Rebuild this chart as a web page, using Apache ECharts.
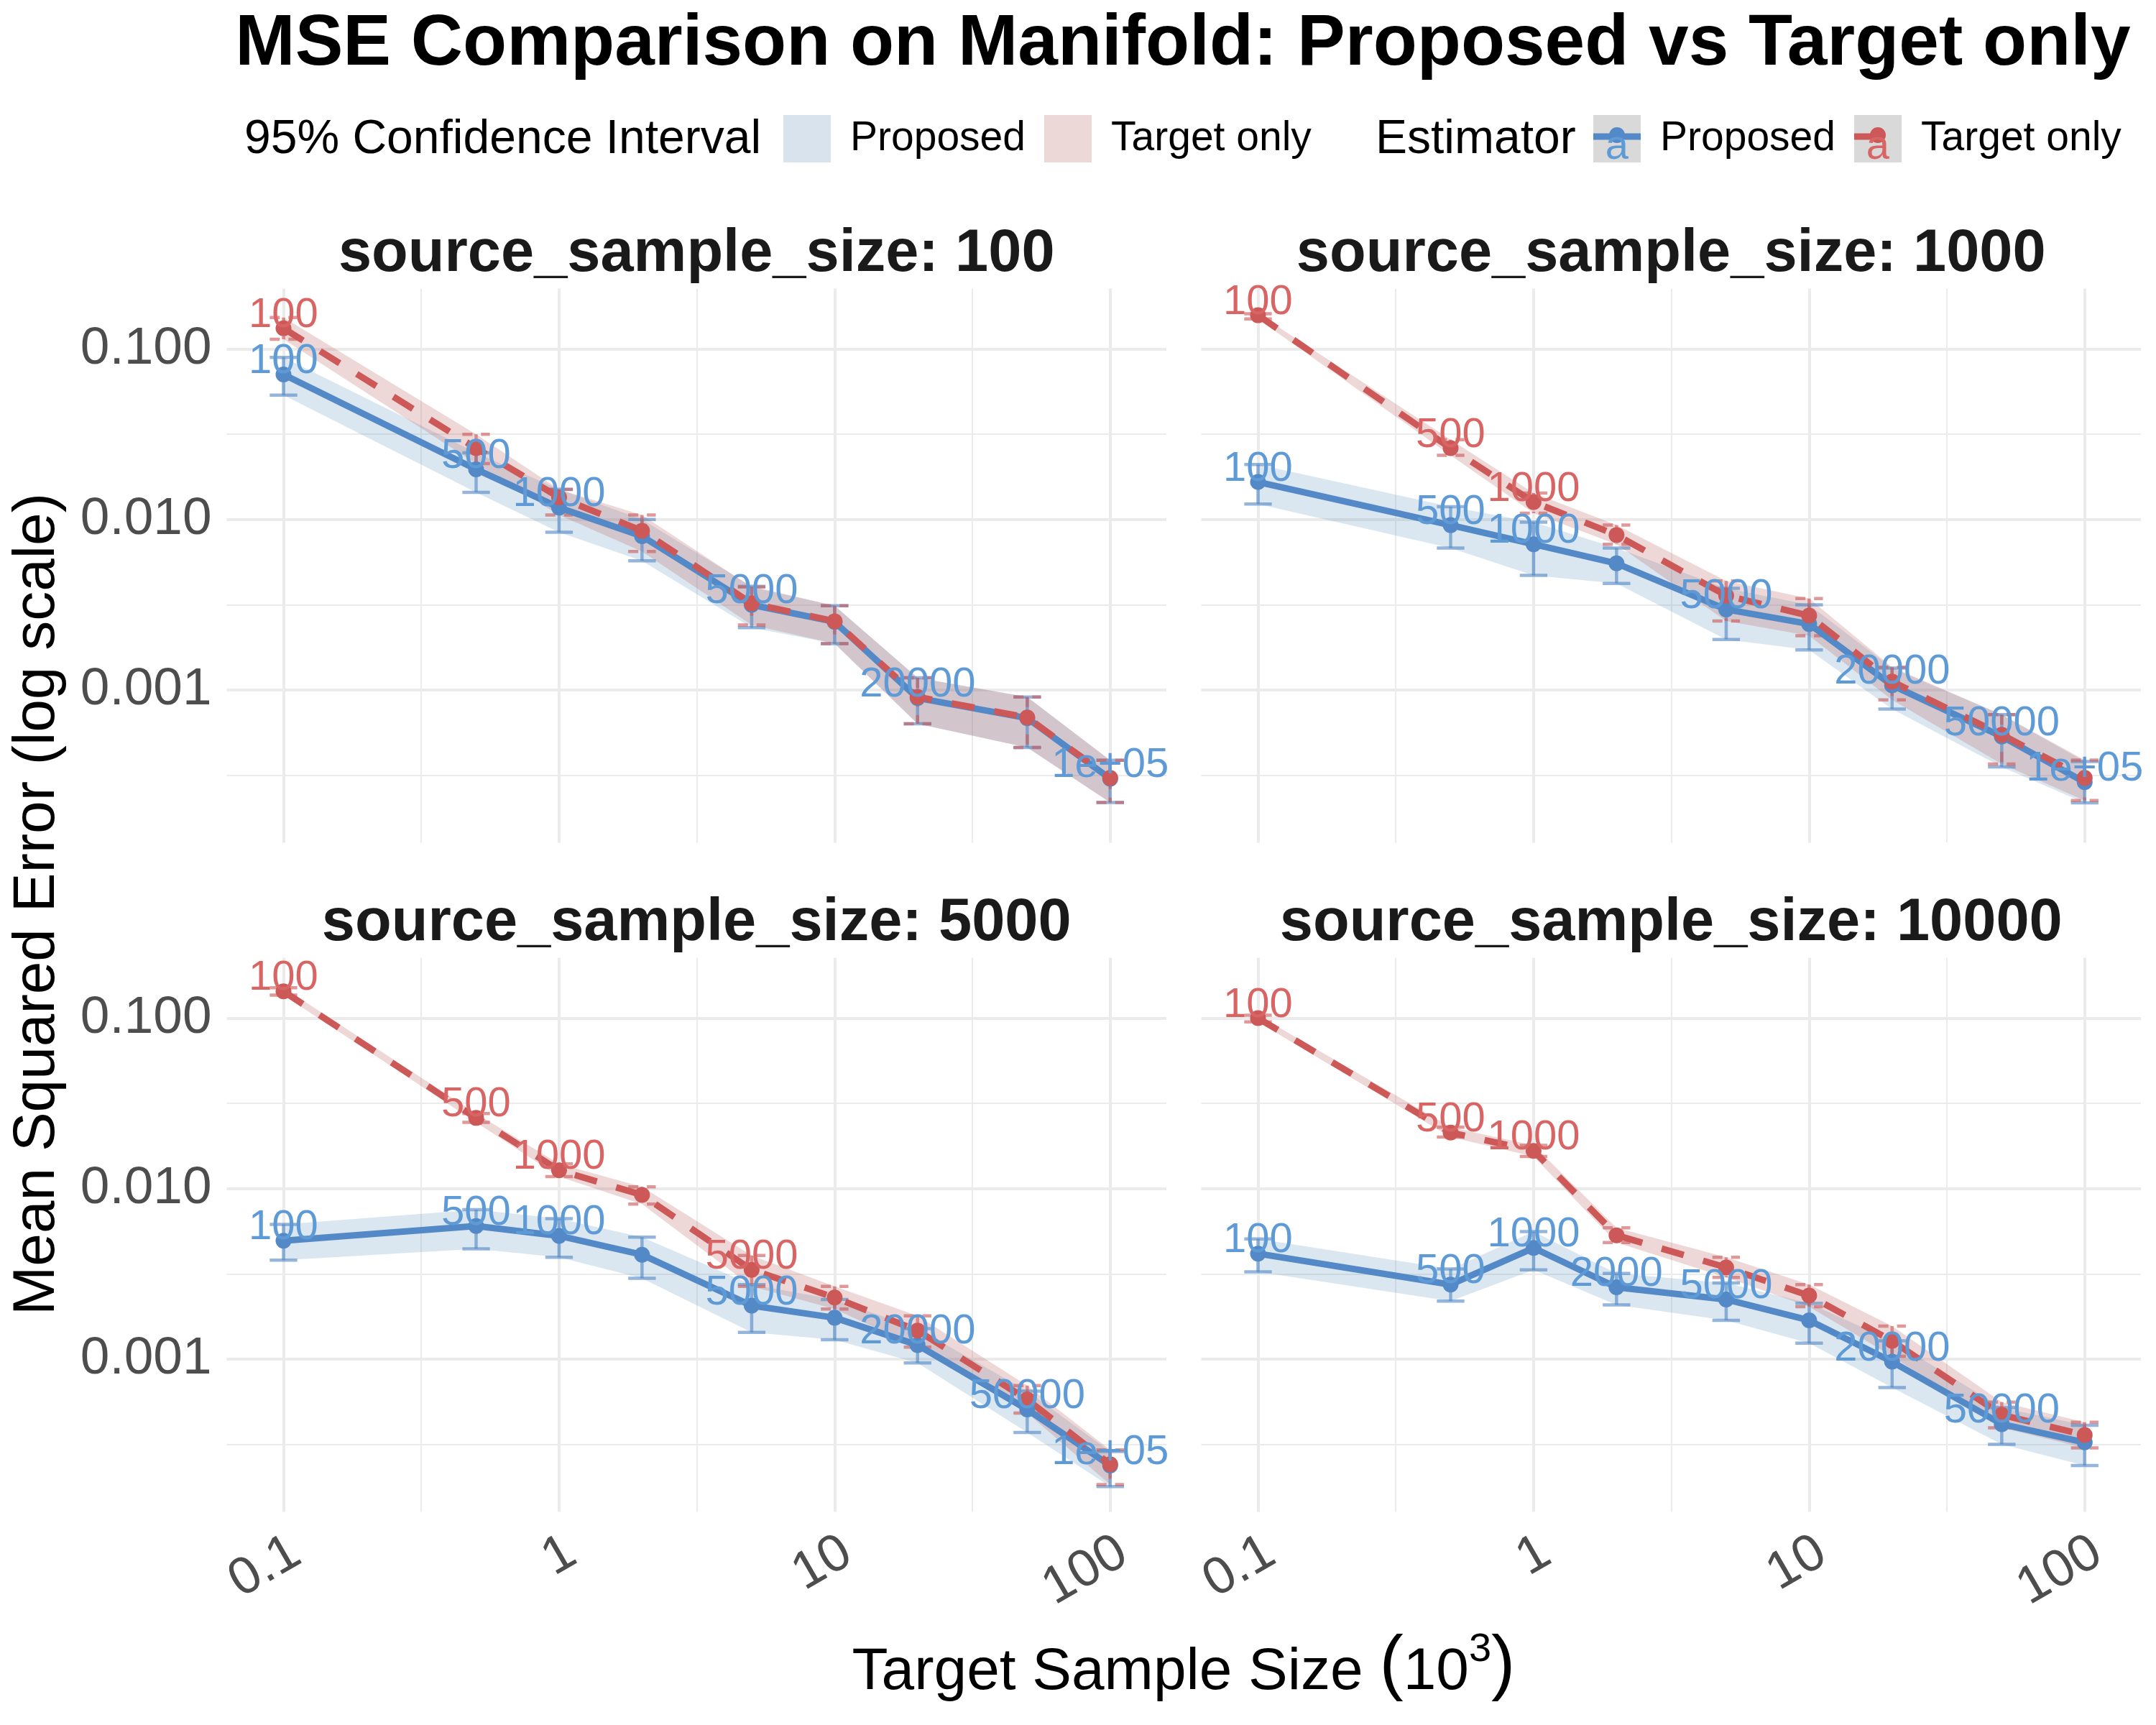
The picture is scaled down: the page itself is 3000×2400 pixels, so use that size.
<!DOCTYPE html>
<html>
<head>
<meta charset="utf-8">
<script src="https://cdn.jsdelivr.net/npm/echarts@6/dist/echarts.min.js"></script>
<style>
html,body{margin:0;padding:0;background:#ffffff;}
#chart{width:3000px;height:2400px;}
</style>
</head>
<body>
<div id="chart"></div>
<script>
// ---------------- DATA ----------------
const targetSizeK = [0.1, 0.5, 1, 2, 5, 10, 20, 50, 100];
const pointLabels = ['100', '500', '1000', '2000', '5000', '10000', '20000', '50000', '1e+05'];
const xTickLabels = ['0.1', '1', '10', '100'];      // 10^-1 .. 10^2
const yTickLabels = ['0.001', '0.010', '0.100'];    // 10^-3 .. 10^-1
const sourceSizes = [100, 1000, 5000, 10000];

// source_sample_size: 100
const propMse100 = [0.0709, 0.0197, 0.01175, 0.00798, 0.00316, 0.00251, 0.000898, 0.000684, 0.000302];
const propLo100  = [0.0536, 0.01445, 0.00843, 0.00573, 0.00232, 0.00187, 0.000634, 0.00046, 0.000219];
const propHi100  = [0.0894, 0.0246, 0.01503, 0.0100, 0.00406, 0.00312, 0.00118, 0.00091, 0.000387];
const tgtMse100  = [0.1322, 0.0262, 0.0135, 0.00859, 0.00322, 0.00253, 0.00091, 0.00069, 0.000305];
const tgtLo100   = [0.114, 0.0213, 0.01064, 0.00649, 0.00241, 0.00187, 0.000634, 0.00046, 0.000219];
const tgtHi100   = [0.153, 0.0316, 0.0150, 0.01064, 0.00402, 0.00312, 0.00118, 0.00091, 0.000387];
const propShow100 = [1, 1, 1, 0, 1, 0, 1, 0, 1];
const tgtShow100  = [1, 0, 0, 0, 0, 0, 0, 0, 0];

// source_sample_size: 1000
const propMse1000 = [0.0166, 0.00927, 0.00716, 0.00553, 0.00297, 0.00244, 0.001066, 0.000534, 0.000288];
const propLo1000  = [0.01233, 0.00681, 0.0047, 0.00422, 0.00198, 0.00172, 0.000773, 0.000354, 0.000218];
const propHi1000  = [0.0210, 0.0119, 0.00964, 0.00681, 0.00395, 0.00316, 0.001346, 0.000718, 0.000381];
const tgtMse1000  = [0.1578, 0.0262, 0.01265, 0.00811, 0.00358, 0.00273, 0.00112, 0.000547, 0.000305];
const tgtLo1000   = [0.150, 0.0238, 0.0109, 0.00716, 0.00254, 0.00208, 0.000875, 0.000368, 0.000225];
const tgtHi1000   = [0.161, 0.0294, 0.0143, 0.00927, 0.00436, 0.00344, 0.00136, 0.000718, 0.000388];
const propShow1000 = [1, 1, 1, 0, 1, 0, 1, 1, 1];
const tgtShow1000  = [1, 1, 1, 0, 0, 0, 0, 0, 0];

// source_sample_size: 5000
const propMse5000 = [0.00495, 0.00604, 0.00529, 0.0041, 0.00206, 0.00175, 0.00121, 0.000507, 0.000238];
const propLo5000  = [0.00381, 0.00444, 0.00396, 0.00298, 0.001435, 0.0013, 0.00095, 0.000372, 0.000179];
const propHi5000  = [0.00618, 0.00753, 0.00667, 0.0052, 0.00274, 0.00224, 0.00151, 0.00065, 0.000287];
const tgtMse5000  = [0.1436, 0.026, 0.01282, 0.00919, 0.00334, 0.0023, 0.00147, 0.00058, 0.000242];
const tgtLo5000   = [0.1366, 0.0245, 0.01178, 0.00813, 0.00267, 0.00197, 0.001178, 0.000483, 0.000184];
const tgtHi5000   = [0.151, 0.0276, 0.0140, 0.01026, 0.00406, 0.00267, 0.001795, 0.0007, 0.000294];
const propShow5000 = [1, 1, 1, 0, 1, 0, 1, 1, 1];
const tgtShow5000  = [1, 1, 1, 0, 1, 0, 0, 0, 0];

// source_sample_size: 10000
const propMse10000 = [0.00416, 0.00274, 0.00449, 0.00264, 0.00224, 0.00169, 0.000966, 0.000416, 0.000325];
const propLo10000  = [0.00325, 0.00219, 0.00334, 0.00208, 0.00169, 0.00124, 0.000682, 0.000317, 0.000238];
const propHi10000  = [0.00507, 0.00338, 0.0056, 0.00318, 0.0028, 0.00213, 0.00128, 0.00052, 0.00041];
const tgtMse10000  = [0.1, 0.02133, 0.01667, 0.00533, 0.00345, 0.00236, 0.00128, 0.000471, 0.000359];
const tgtLo10000   = [0.0952, 0.0201, 0.01546, 0.00483, 0.00302, 0.00203, 0.00104, 0.000396, 0.000302];
const tgtHi10000   = [0.104, 0.02296, 0.01795, 0.00589, 0.00396, 0.00274, 0.001563, 0.00056, 0.000427];
const propShow10000 = [1, 1, 1, 1, 1, 0, 1, 1, 0];
const tgtShow10000  = [1, 1, 1, 0, 0, 0, 0, 0, 0];

// ---------------- STYLE / LAYOUT ----------------
const FONT = "'Liberation Sans', Arial, Helvetica, sans-serif";
const C_PROP = '#5489C7', C_TGT = '#CD5858';
const C_PROP_LABEL = '#5E9BD6', C_TGT_LABEL = '#D96464';
const C_PROP_BAND = 'rgba(70,130,180,0.2)', C_TGT_BAND = 'rgba(190,110,110,0.28)';
const C_PROP_ERR = 'rgba(84,137,199,0.62)', C_TGT_ERR = 'rgba(205,88,88,0.62)';
const PANEL_LEFT = [315.5, 1671.5], PANEL_TOP = [401.5, 1332.5];
const PANEL_W = 1307.5, PANEL_H = 771;
const X_MIN = -1.206, X_MAX = 2.204, Y_MIN = -3.8957, Y_MAX = -0.6455;
const CAP_HALF = 0.05;

const panels = [
  {prop: [propMse100, propLo100, propHi100, propShow100], tgt: [tgtMse100, tgtLo100, tgtHi100, tgtShow100]},
  {prop: [propMse1000, propLo1000, propHi1000, propShow1000], tgt: [tgtMse1000, tgtLo1000, tgtHi1000, tgtShow1000]},
  {prop: [propMse5000, propLo5000, propHi5000, propShow5000], tgt: [tgtMse5000, tgtLo5000, tgtHi5000, tgtShow5000]},
  {prop: [propMse10000, propLo10000, propHi10000, propShow10000], tgt: [tgtMse10000, tgtLo10000, tgtHi10000, tgtShow10000]}
];

const lg = Math.log10;
const isInt = v => Math.abs(v - Math.round(v)) < 1e-6;

function bandRender(rows, color) {
  return function (params, api) {
    if (params.dataIndex !== 0) return null;
    const up = rows.map(r => api.coord([r[0], r[2]]));
    const dn = rows.map(r => api.coord([r[0], r[1]])).reverse();
    return {type: 'polygon', silent: true, shape: {points: up.concat(dn)}, style: {fill: color}};
  };
}
function errRender(color, dash) {
  return function (params, api) {
    const x = api.value(0), lo = api.value(1), hi = api.value(2);
    const t = api.coord([x, hi]), b = api.coord([x, lo]);
    const l = api.coord([x - CAP_HALF, hi])[0], r = api.coord([x + CAP_HALF, hi])[0];
    const st = () => ({stroke: color, lineWidth: 4.5, lineDash: dash, fill: null});
    return {type: 'group', silent: true, children: [
      {type: 'line', shape: {x1: t[0], y1: t[1], x2: b[0], y2: b[1]}, style: st()},
      {type: 'line', shape: {x1: l, y1: t[1], x2: r, y2: t[1]}, style: st()},
      {type: 'line', shape: {x1: l, y1: b[1], x2: r, y2: b[1]}, style: st()}
    ]};
  };
}

const grids = [], xAxes = [], yAxes = [], series = [], graphics = [];

panels.forEach((pd, p) => {
  const col = p % 2, row = Math.floor(p / 2);
  grids.push({left: PANEL_LEFT[col], top: PANEL_TOP[row], width: PANEL_W, height: PANEL_H, containLabel: false});
  xAxes.push({
    type: 'value', gridIndex: p, min: X_MIN, max: X_MAX, minInterval: 1, maxInterval: 1,
    axisLine: {show: false, onZero: false}, axisTick: {show: false},
    axisLabel: {show: row === 1, rotate: 30, align: 'right', verticalAlign: 'top', margin: 20,
      fontSize: 73, color: '#4D4D4D', fontFamily: FONT, showMinLabel: false, showMaxLabel: false,
      formatter: v => isInt(v) ? (xTickLabels[Math.round(v) + 1] || '') : ''},
    splitLine: {show: true, showMinLine: false, showMaxLine: false, lineStyle: {color: '#EBEBEB', width: 4}},
    minorTick: {show: false, splitNumber: 2},
    minorSplitLine: {show: true, lineStyle: {color: '#EBEBEB', width: 2}}
  });
  yAxes.push({
    type: 'value', gridIndex: p, min: Y_MIN, max: Y_MAX, minInterval: 1, maxInterval: 1,
    axisLine: {show: false, onZero: false}, axisTick: {show: false},
    axisLabel: {show: col === 0, margin: 21, fontSize: 73, color: '#4D4D4D', fontFamily: FONT,
      showMinLabel: false, showMaxLabel: false,
      formatter: v => isInt(v) ? (yTickLabels[Math.round(v) + 3] || '') : ''},
    splitLine: {show: true, showMinLine: false, showMaxLine: false, lineStyle: {color: '#EBEBEB', width: 4}},
    minorTick: {show: false, splitNumber: 2},
    minorSplitLine: {show: true, lineStyle: {color: '#EBEBEB', width: 2}}
  });

  const methods = [
    {key: 'prop', name: 'Proposed', color: C_PROP, lab: C_PROP_LABEL, band: C_PROP_BAND, err: C_PROP_ERR, type: 'solid', dash: null},
    {key: 'tgt', name: 'Target only', color: C_TGT, lab: C_TGT_LABEL, band: C_TGT_BAND, err: C_TGT_ERR, type: [32, 28], dash: [14, 12]}
  ];
  methods.forEach(m => {
    const [mse, lo, hi] = pd[m.key];
    const rows = targetSizeK.map((x, i) => [lg(x), lg(lo[i]), lg(hi[i])]);
    series.push({
      type: 'custom', name: 'CI ' + m.name, xAxisIndex: p, yAxisIndex: p, z: 1, silent: true,
      itemStyle: {color: m.band}, data: rows, encode: {x: 0, y: [1, 2]},
      renderItem: bandRender(rows, m.band), animation: false
    });
  });
  methods.forEach(m => {
    const [mse, lo, hi, show] = pd[m.key];
    series.push({
      type: 'line', name: m.name, xAxisIndex: p, yAxisIndex: p, z: 4,
      symbol: 'circle', symbolSize: 22, showSymbol: true,
      itemStyle: {color: m.color}, lineStyle: {color: m.color, width: 9, type: m.type},
      emphasis: {disabled: true},
      label: {show: false, position: 'top', distance: -22, color: m.lab, fontSize: 58, fontFamily: FONT,
        formatter: prm => pointLabels[prm.dataIndex]},
      labelLayout: {hideOverlap: false},
      data: targetSizeK.map((x, i) => ({value: [lg(x), lg(mse[i])], label: {show: !!show[i]}})),
      animation: false
    });
  });
  methods.forEach(m => {
    const [mse, lo, hi] = pd[m.key];
    series.push({
      type: 'custom', name: m.name, xAxisIndex: p, yAxisIndex: p, z: 3, silent: true,
      itemStyle: {color: m.color},
      data: targetSizeK.map((x, i) => [lg(x), lg(lo[i]), lg(hi[i])]), encode: {x: 0, y: [1, 2]},
      renderItem: errRender(m.err, m.dash), animation: false
    });
  });

  graphics.push({type: 'text', x: PANEL_LEFT[col] + PANEL_W / 2, y: PANEL_TOP[row] - 47, z: 100,
    style: {text: 'source_sample_size: ' + sourceSizes[p], fill: '#1A1A1A', font: 'bold 83px ' + FONT,
      align: 'center', verticalAlign: 'middle', textAlign: 'center', textVerticalAlign: 'middle'}});
});

// titles
graphics.push({type: 'text', x: 1646, y: 62, z: 100,
  style: {text: 'MSE Comparison on Manifold: Proposed vs Target only', fill: '#000', font: 'bold 100px ' + FONT,
    align: 'center', verticalAlign: 'middle', textAlign: 'center', textVerticalAlign: 'middle'}});
graphics.push({type: 'text', x: 52, y: 1258, rotation: Math.PI / 2, z: 100,
  style: {text: 'Mean Squared Error (log scale)', fill: '#000', font: '82px ' + FONT,
    align: 'center', verticalAlign: 'middle', textAlign: 'center', textVerticalAlign: 'middle'}});
graphics.push({type: 'text', x: 1647, y: 2318, z: 100,
  style: {text: '{t|Target Sample Size }{p|(}{t|10}{s|3}{p|)}', fill: '#000', font: '82px ' + FONT,
    align: 'center', verticalAlign: 'middle', textAlign: 'center', textVerticalAlign: 'middle',
    rich: {
      t: {fontSize: 82, fontFamily: FONT, fill: '#000', verticalAlign: 'bottom', lineHeight: 100},
      p: {fontSize: 100, fontFamily: FONT, fill: '#000', verticalAlign: 'bottom', lineHeight: 100},
      s: {fontSize: 56, fontFamily: FONT, fill: '#000', verticalAlign: 'top', lineHeight: 56}
    }}});
// legend group titles
graphics.push({type: 'text', x: 340, y: 195, z: 100,
  style: {text: '95% Confidence Interval', fill: '#000', font: '66px ' + FONT,
    align: 'left', verticalAlign: 'middle', textAlign: 'left', textVerticalAlign: 'middle'}});
graphics.push({type: 'text', x: 1914, y: 195, z: 100,
  style: {text: 'Estimator', fill: '#000', font: '66px ' + FONT,
    align: 'left', verticalAlign: 'middle', textAlign: 'left', textVerticalAlign: 'middle'}});
// 'a' glyphs of text key
[[2217, C_PROP_LABEL], [2580, C_TGT_LABEL]].forEach(([lx, c]) => {
  graphics.push({type: 'text', x: lx + 33, y: 205, z: 100,
    style: {text: 'a', fill: c, font: '58px ' + FONT, align: 'center', verticalAlign: 'middle',
      textAlign: 'center', textVerticalAlign: 'middle'}});
});

function keySvg(color, dashed) {
  const svg = "<svg xmlns='http://www.w3.org/2000/svg' width='66' height='66'>" +
    "<rect width='66' height='66' fill='#D9D9D9'/>" +
    "<line x1='0' y1='30' x2='66' y2='30' stroke='" + color + "' stroke-width='9'" +
    (dashed ? " stroke-dasharray='36 30'" : "") + "/>" +
    "<circle cx='33' cy='28' r='11' fill='" + color + "'/></svg>";
  return 'image://data:image/svg+xml;charset=utf-8,' + encodeURIComponent(svg);
}

const legendText = {fontSize: 57, color: '#000', fontFamily: FONT, padding: [0, 0, 0, 22]};
const legendNames = {'CI Proposed': 'Proposed', 'CI Target only': 'Target only', 'Proposed': 'Proposed', 'Target only': 'Target only'};
function mkLegend(left, item) {
  return {left: left, top: 160, padding: 0, itemWidth: 66, itemHeight: 66, selectedMode: false,
    textStyle: legendText, formatter: n => legendNames[n], data: [item]};
}

const option = {
  animation: false,
  backgroundColor: '#ffffff',
  textStyle: {fontFamily: FONT},
  grid: grids, xAxis: xAxes, yAxis: yAxes, series: series,
  legend: [
    mkLegend(1090, {name: 'CI Proposed', icon: 'rect', itemStyle: {color: '#D9E3EE', borderWidth: 0}}),
    mkLegend(1453, {name: 'CI Target only', icon: 'rect', itemStyle: {color: '#EDD8D8', borderWidth: 0}}),
    mkLegend(2217, {name: 'Proposed', icon: keySvg(C_PROP, false)}),
    mkLegend(2580, {name: 'Target only', icon: keySvg(C_TGT, true)})
  ],
  graphic: graphics
};

const chart = echarts.init(document.getElementById('chart'), null, {renderer: 'canvas', width: 3000, height: 2400});
chart.setOption(option);
</script>
</body>
</html>
